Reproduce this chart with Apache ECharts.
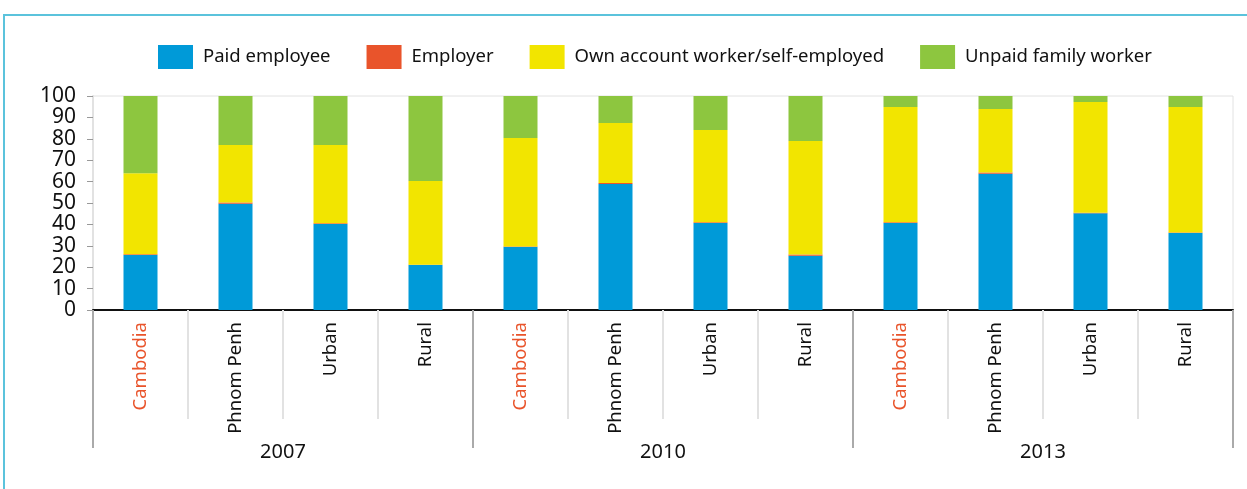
<!DOCTYPE html>
<html>
<head>
<meta charset="utf-8">
<script src="https://cdn.jsdelivr.net/npm/echarts@6/dist/echarts.min.js"></script>
<style>
	html, body { margin: 0; padding: 0; background: #fff; }
	#frame { position: absolute; left: 3px; top: 14px; width: 1244px; height: 475px; border-top: 2px solid #5bc3dc; border-left: 2px solid #5bc3dc; box-sizing: border-box; }
	#chart { position: absolute; left: 0; top: 0; width: 1247px; height: 489px; }
</style>
</head>
<body>
<div id="frame"></div>
<div id="chart"></div>
<script>
// categories (place within each survey year)
var places = ['Cambodia', 'Phnom Penh', 'Urban', 'Rural',
	'Cambodia', 'Phnom Penh', 'Urban', 'Rural',
	'Cambodia', 'Phnom Penh', 'Urban', 'Rural'];
var years = ['2007', '2010', '2013'];

// shares of employed, %
var paidEmployee = [25.7, 49.7, 40.2, 21.0, 29.4, 58.9, 40.7, 25.4, 40.7, 63.7, 45.2, 36.0];
var employer = [0.3, 0.5, 0.3, 0.2, 0.3, 0.4, 0.3, 0.5, 0.3, 0.5, 0.3, 0.2];
var ownAccount = [37.9, 26.9, 36.6, 39.1, 50.7, 28.1, 43.1, 53.1, 53.9, 29.7, 51.7, 58.7];
var unpaidFamily = [36.1, 22.9, 22.9, 39.7, 19.6, 12.6, 15.9, 21.0, 5.1, 6.1, 2.8, 5.1];

var font = 'Noto Sans';

function bar(name, data, color) {
	return {
		name: name,
		type: 'bar',
		stack: 'total',
		barWidth: 34,
		data: data,
		itemStyle: { color: color }
	};
}

var chart = echarts.init(document.getElementById('chart'));
var option = {
	animation: false,
	textStyle: { fontFamily: font },
	legend: {
		top: 40,
		left: 153,
		itemWidth: 35,
		itemHeight: 24,
		itemGap: 36,
		icon: 'rect',
		textStyle: { fontSize: 18.5, color: '#111', fontFamily: font, padding: [0, 0, 0, 5] },
		data: ['Paid employee', 'Employer', 'Own account worker/self-employed', 'Unpaid family worker']
	},
	grid: {
		left: 93,
		right: 14,
		top: 96,
		bottom: 179,
		show: true,
		borderColor: '#e2e2e2',
		borderWidth: 1,
		containLabel: false
	},
	xAxis: [{
		type: 'category',
		data: places,
		position: 'bottom',
		axisLine: { show: true, lineStyle: { color: '#111', width: 2 } },
		axisTick: { show: true, interval: 0, length: 109, lineStyle: { color: '#e2e2e2', width: 2 } },
		axisLabel: {
			rotate: 90,
			interval: 0,
			margin: 12,
			fontSize: 18.5,
			fontFamily: font,
			color: function (value) {
				return value === 'Cambodia' ? '#e9542b' : '#111';
			}
		}
	}, {
		type: 'category',
		data: years,
		position: 'bottom',
		axisLine: { show: false },
		axisTick: { show: true, interval: 0, length: 138, lineStyle: { color: '#aaa', width: 2 } },
		axisLabel: { margin: 132, fontSize: 20, color: '#111', fontFamily: font }
	}],
	yAxis: {
		type: 'value',
		min: 0,
		max: 100,
		interval: 10,
		axisLine: { show: true, lineStyle: { color: '#e2e2e2', width: 2 } },
		axisTick: { show: true, length: 6, lineStyle: { color: '#999', width: 1 } },
		splitLine: { show: false },
		axisLabel: {
			margin: 17,
			fontSize: 21,
			lineHeight: 20,
			color: '#111',
			fontFamily: font,
			showMinLabel: true,
			showMaxLabel: true,
			hideOverlap: false
		}
	},
	series: [
		bar('Paid employee', paidEmployee, '#009ad8'),
		bar('Employer', employer, '#e9542b'),
		bar('Own account worker/self-employed', ownAccount, '#f2e500'),
		bar('Unpaid family worker', unpaidFamily, '#8dc63f')
	]
};
chart.setOption(option);
</script>
</body>
</html>
